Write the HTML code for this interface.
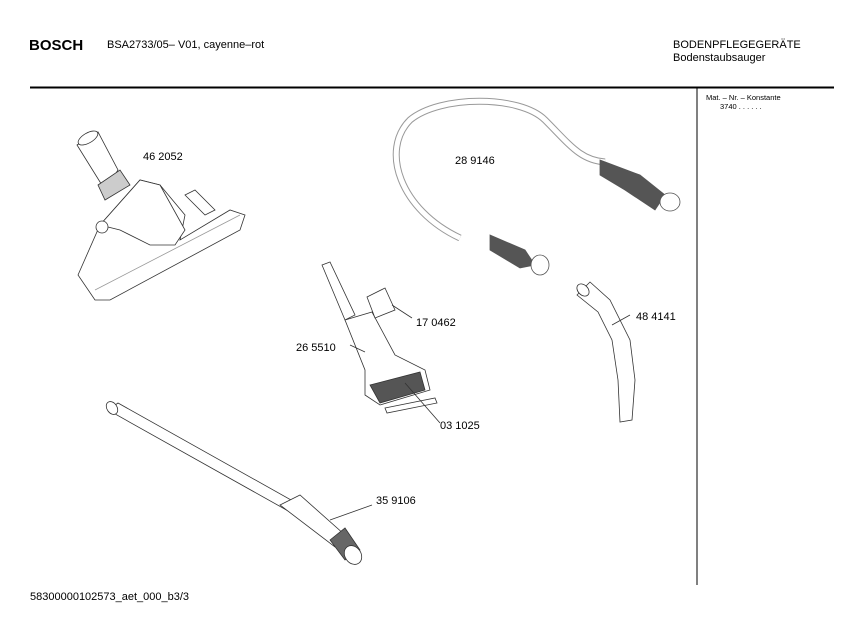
<!DOCTYPE html>
<html><head><meta charset="utf-8"><style>
body{margin:0;width:847px;height:635px;background:#fff;overflow:hidden;font-family:"Liberation Sans",sans-serif;}
svg{position:absolute;left:0;top:0}
</style></head><body>
<svg width="847" height="635" viewBox="0 0 847 635" font-family="Liberation Sans, sans-serif" fill="none" stroke="#000" stroke-width="0.8">
<text x="29" y="50" font-size="15" font-weight="bold" fill="#000" stroke="none">BOSCH</text>
<text x="107" y="48" font-size="11" fill="#000" stroke="none">BSA2733/05– V01, cayenne–rot</text>
<text x="673" y="48" font-size="11" fill="#000" stroke="none">BODENPFLEGEGERÄTE</text>
<text x="673" y="61" font-size="11" fill="#000" stroke="none">Bodenstaubsauger</text>
<line x1="30" y1="87.5" x2="834" y2="87.5" stroke-width="2"/>
<line x1="697" y1="88" x2="697" y2="585" stroke-width="1"/>
<text x="706" y="100" font-size="7.5" fill="#000" stroke="none">Mat. – Nr. – Konstante</text>
<text x="720" y="109" font-size="7.5" fill="#000" stroke="none">3740 .  .  .  .  .  .</text>
<text x="30" y="600" font-size="11" fill="#000" stroke="none">58300000102573_aet_000_b3/3</text>

<!-- nozzle 46 2052 -->
<g stroke="#333">
<path d="M77 145 L98 132 L118 170 L105 190 Z" fill="#fff"/>
<ellipse cx="88" cy="138" rx="11" ry="5" transform="rotate(-30 88 138)" fill="#fff"/>
<path d="M98 185 L120 170 L130 185 L105 200 Z" fill="#ccc"/>
<path d="M78 275 L100 225 L140 180 L160 185 L185 215 L180 240 L230 210 L245 215 L240 230 L110 300 L95 300 Z" fill="#fff"/>
<path d="M100 225 L140 180 L160 185 L185 230 L175 245 L150 245 L120 230 Z" fill="#fff"/>
<circle cx="102" cy="227" r="6" fill="#fff"/>
<path d="M185 195 L195 190 L215 210 L205 215 Z" fill="#fff"/>
<path d="M95 290 L240 215" stroke="#999"/>
</g>
<text x="143" y="160" font-size="11" fill="#000" stroke="none">46 2052</text>

<!-- hose 28 9146 -->
<g stroke="#555">
<path d="M460 238 C400 210 380 150 410 120 C440 95 520 95 545 120 C570 145 580 160 605 162" stroke-width="7" stroke="#999"/>
<path d="M460 238 C400 210 380 150 410 120 C440 95 520 95 545 120 C570 145 580 160 605 162" stroke-width="5" stroke="#fff"/>
<path d="M600 160 L640 175 L665 195 L655 210 L625 190 L600 175 Z" fill="#555"/>
<ellipse cx="670" cy="202" rx="10" ry="9" fill="#fff"/>
<path d="M490 235 L525 250 L535 265 L520 268 L490 250 Z" fill="#555"/>
<ellipse cx="540" cy="265" rx="9" ry="10" fill="#fff"/>
</g>
<text x="455" y="164" font-size="11" fill="#000" stroke="none">28 9146</text>

<!-- crevice tool -->
<g stroke="#333">
<path d="M322 265 L330 262 L355 315 L345 320 Z" fill="#fff"/>
<path d="M345 320 L372 312 L395 355 L425 370 L430 390 L380 405 L365 395 L365 370 Z" fill="#fff"/>
<path d="M370 385 L420 372 L425 390 L380 403 Z" fill="#555"/>
<path d="M367 297 L385 288 L395 310 L375 318 Z" fill="#fff"/>
<path d="M385 408 L435 398 L437 403 L387 413 Z" fill="#fff"/>
<line x1="392" y1="305" x2="412" y2="318"/>
<line x1="350" y1="345" x2="365" y2="352"/>
<line x1="405" y1="383" x2="440" y2="423"/>
</g>
<text x="416" y="326" font-size="11" fill="#000" stroke="none">17 0462</text>
<text x="296" y="351" font-size="11" fill="#000" stroke="none">26 5510</text>
<text x="440" y="429" font-size="11" fill="#000" stroke="none">03 1025</text>

<!-- handle 48 4141 -->
<g stroke="#333">
<path d="M577 295 L590 282 L610 300 L630 340 L635 380 L632 420 L620 422 L618 380 L612 340 L598 312 Z" fill="#fff"/>
<ellipse cx="583" cy="290" rx="7" ry="5" transform="rotate(45 583 290)" fill="#fff"/>
<line x1="612" y1="325" x2="630" y2="315"/>
</g>
<text x="636" y="320" font-size="11" fill="#000" stroke="none">48 4141</text>

<!-- tube 35 9106 -->
<g stroke="#333">
<path d="M108 410 L118 403 L300 505 L290 512 Z" fill="#fff"/>
<path d="M280 505 L300 495 L345 535 L335 547 Z" fill="#fff"/>
<ellipse cx="112" cy="408" rx="5" ry="7" transform="rotate(-35 112 408)" fill="#fff"/>
<path d="M330 540 L345 528 L360 550 L345 560 Z" fill="#666"/>
<ellipse cx="353" cy="555" rx="8" ry="10" transform="rotate(-35 353 555)" fill="#fff"/>
<line x1="330" y1="520" x2="372" y2="505"/>
</g>
<text x="376" y="504" font-size="11" fill="#000" stroke="none">35 9106</text>
</svg>
</body></html>
